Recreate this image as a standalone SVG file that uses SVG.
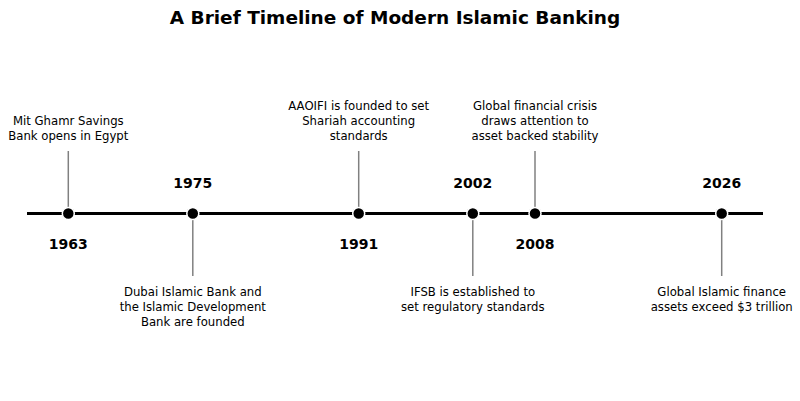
<svg xmlns="http://www.w3.org/2000/svg" width="800" height="401" viewBox="0 0 800 401">
<style>
.title{font-family:"DejaVu Sans",sans-serif;font-weight:bold;font-size:18.5px;fill:#000;text-anchor:middle}
.year{font-family:"DejaVu Sans",sans-serif;font-weight:bold;font-size:14px;fill:#000;text-anchor:middle}
.desc{font-family:"DejaVu Sans",sans-serif;font-size:11.7px;fill:#000;text-anchor:middle}
.stem{stroke:#808080;stroke-width:1.5}
.dot{fill:#000;stroke:#fff;stroke-width:1.5}
</style>
<rect width="800" height="401" fill="#fff"/>
<text class="title" x="395" y="24">A Brief Timeline of Modern Islamic Banking</text>
<g id="connectors">
<line x1="27" y1="213.5" x2="763" y2="213.5" stroke="#000" stroke-width="3"/>
<line class="stem" x1="68.3" y1="151" x2="68.3" y2="207"/>
<line class="stem" x1="192.8" y1="220" x2="192.8" y2="276"/>
<line class="stem" x1="358.7" y1="151" x2="358.7" y2="207"/>
<line class="stem" x1="472.8" y1="220" x2="472.8" y2="276"/>
<line class="stem" x1="535" y1="151" x2="535" y2="207"/>
<line class="stem" x1="721.7" y1="220" x2="721.7" y2="276"/>
</g>
<g id="e1963">
<circle class="dot" cx="68.3" cy="213.5" r="6"/>
<text class="year" x="68.3" y="249">1963</text>
<text class="desc" x="68.3" y="125">Mit Ghamr Savings</text>
<text class="desc" x="68.3" y="139.7">Bank opens in Egypt</text>
</g>
<g id="e1975">
<circle class="dot" cx="192.8" cy="213.5" r="6"/>
<text class="year" x="192.8" y="187.5">1975</text>
<text class="desc" x="192.8" y="295.5">Dubai Islamic Bank and</text>
<text class="desc" x="192.8" y="310.5">the Islamic Development</text>
<text class="desc" x="192.8" y="325.5">Bank are founded</text>
</g>
<g id="e1991">
<circle class="dot" cx="358.7" cy="213.5" r="6"/>
<text class="year" x="358.7" y="249">1991</text>
<text class="desc" x="358.7" y="109.5">AAOIFI is founded to set</text>
<text class="desc" x="358.7" y="124.5">Shariah accounting</text>
<text class="desc" x="358.7" y="139.5">standards</text>
</g>
<g id="e2002">
<circle class="dot" cx="472.8" cy="213.5" r="6"/>
<text class="year" x="472.8" y="187.5">2002</text>
<text class="desc" x="472.8" y="295.5">IFSB is established to</text>
<text class="desc" x="472.8" y="310.5">set regulatory standards</text>
</g>
<g id="e2008">
<circle class="dot" cx="535" cy="213.5" r="6"/>
<text class="year" x="535" y="249">2008</text>
<text class="desc" x="535" y="109.5">Global financial crisis</text>
<text class="desc" x="535" y="124.5">draws attention to</text>
<text class="desc" x="535" y="139.5">asset backed stability</text>
</g>
<g id="e2026">
<circle class="dot" cx="721.7" cy="213.5" r="6"/>
<text class="year" x="721.7" y="187.5">2026</text>
<text class="desc" x="721.7" y="295.5">Global Islamic finance</text>
<text class="desc" x="721.7" y="310.5">assets exceed $3 trillion</text>
</g>
</svg>
